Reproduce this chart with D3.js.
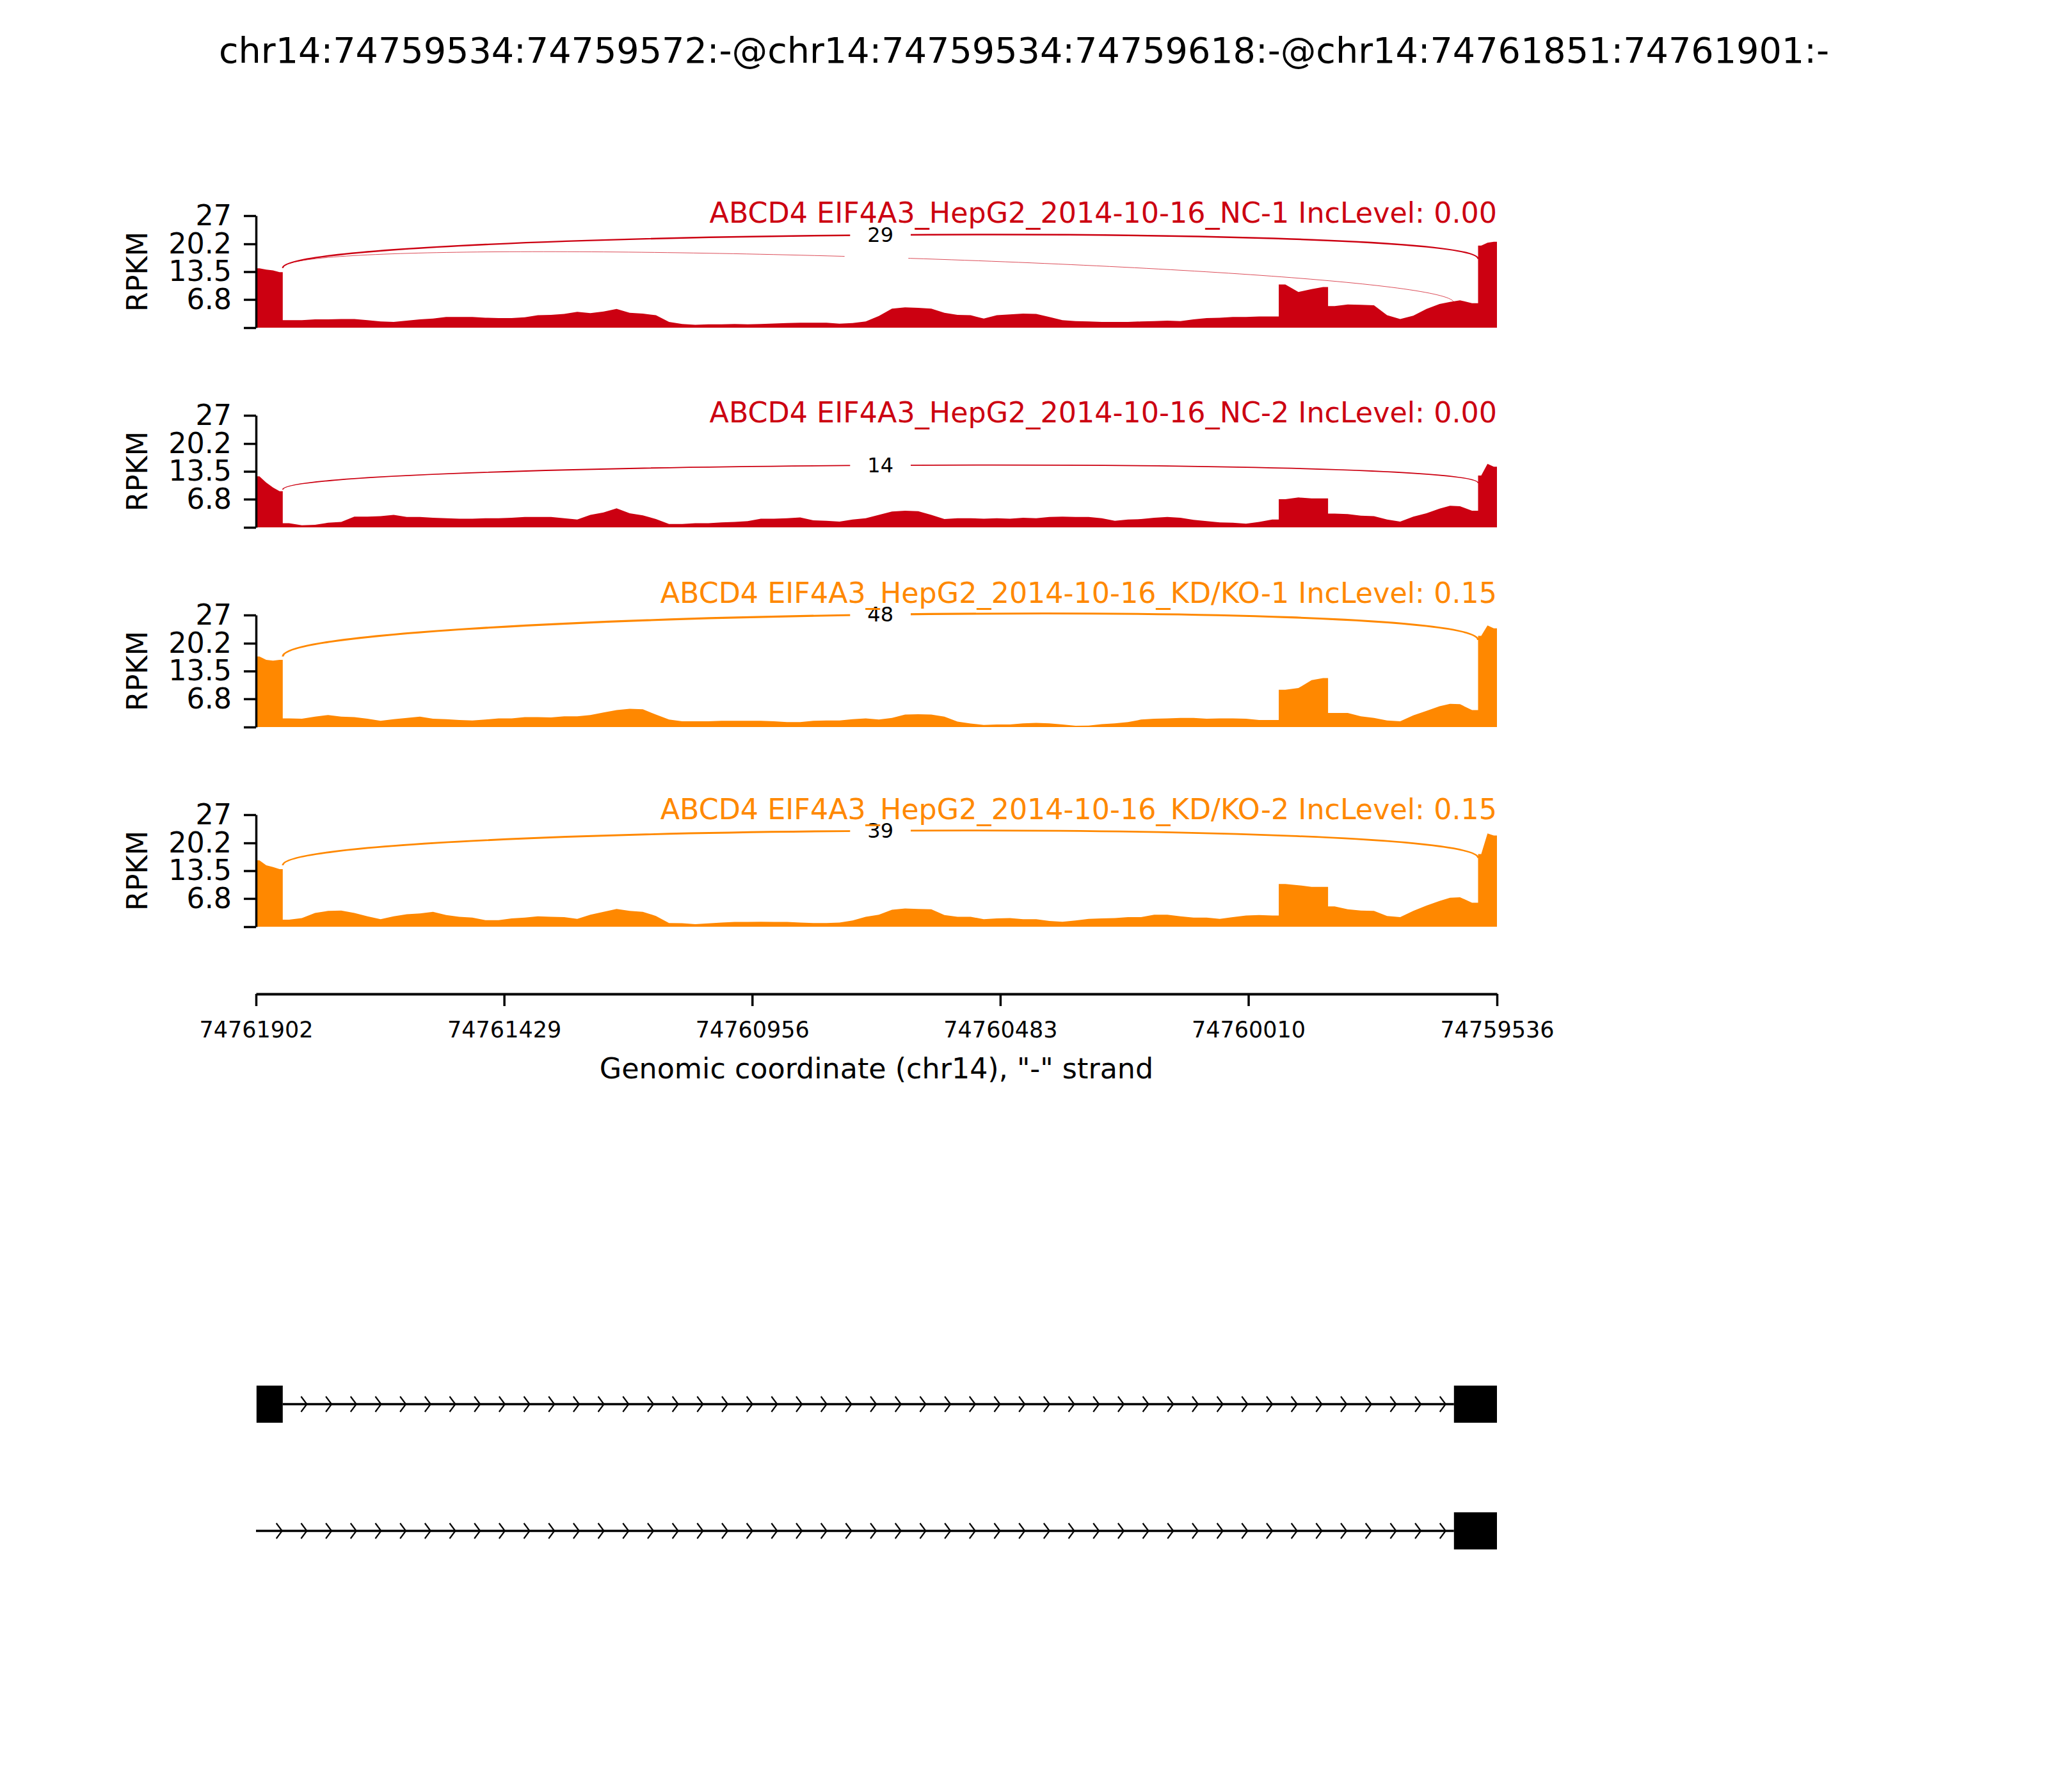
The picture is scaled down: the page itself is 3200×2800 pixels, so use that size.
<!DOCTYPE html>
<html>
<head>
<meta charset="utf-8">
<script src="https://cdn.jsdelivr.net/npm/d3@7"></script>
<style>
  body { margin: 0; background: #fff; }
  svg text { font-family: "DejaVu Sans", sans-serif; }
</style>
</head>
<body>
<div id="graph"></div>
<script>
const TITLE = "chr14:74759534:74759572:-@chr14:74759534:74759618:-@chr14:74761851:74761901:-";
const GENE = "ABCD4";
const SAMPLES = [
  "EIF4A3_HepG2_2014-10-16_NC-1",
  "EIF4A3_HepG2_2014-10-16_NC-2",
  "EIF4A3_HepG2_2014-10-16_KD/KO-1",
  "EIF4A3_HepG2_2014-10-16_KD/KO-2"
];
const INC_LEVELS = ["0.00", "0.00", "0.15", "0.15"];
const COLORS = ["#CC0011", "#CC0011", "#FF8800", "#FF8800"];

const Y_TICKS = [0, 6.8, 13.5, 20.2, 27];
const X_TICKS = ["74761902", "74761429", "74760956", "74760483", "74760010", "74759536"];
const X_LABEL = "Genomic coordinate (chr14), \"-\" strand";
const REGION = [74761902, 74759536];

// coverage bins, bp offset from 74761902 (start of each bin)
const BIN_OFFSETS = [
  0, 13, 26, 39, 51,
  75, 100, 125, 150, 175, 200, 225, 250, 275, 300,
  325, 350, 375, 400, 425, 450, 475, 500, 525, 550,
  575, 600, 625, 650, 675, 700, 725, 750, 775, 800,
  825, 850, 875, 900, 925, 950, 975, 1000, 1025, 1050,
  1075, 1100, 1125, 1150, 1175, 1200, 1225, 1250, 1275, 1300,
  1325, 1350, 1375, 1400, 1425, 1450, 1475, 1500, 1525, 1550,
  1575, 1600, 1625, 1650, 1675, 1700, 1725, 1750, 1775, 1800,
  1825, 1850, 1875, 1900, 1925,
  1950, 1975, 2000, 2025,
  2044, 2069, 2094, 2119, 2144, 2169, 2194, 2219, 2244, 2269,
  2284, 2307,
  2330, 2342, 2354
];
const BIN_END = 2366;
// offsets where the coverage jumps sharply (exon / block edges)
const EDGES = [0, 51, 1950, 2044, 2330, 2366];

// RPKM per bin
const COV_NC1 = [
  14.3, 14.0, 13.8, 13.4, 1.8,
  1.8, 2.0, 2.0, 2.1, 2.1, 1.8, 1.5, 1.4, 1.7, 2.0,
  2.2, 2.6, 2.6, 2.6, 2.4, 2.3, 2.3, 2.5, 3.0, 3.1,
  3.3, 3.8, 3.5, 3.9, 4.5, 3.6, 3.4, 3.0, 1.4, 0.9,
  0.7, 0.8, 0.8, 0.9, 0.8, 0.9, 1.0, 1.1, 1.2, 1.2,
  1.2, 0.95, 1.1, 1.5, 2.8, 4.6, 4.9, 4.8, 4.6, 3.6,
  3.1, 3.0, 2.2, 3.0, 3.2, 3.4, 3.3, 2.6, 1.8, 1.6,
  1.5, 1.4, 1.4, 1.4, 1.5, 1.6, 1.7, 1.6, 2.0, 2.3,
  2.4, 2.6, 2.6, 2.7, 2.7,
  10.4, 8.6, 9.3, 9.8,
  5.2, 5.6, 5.5, 5.4, 3.0, 2.1, 2.9, 4.5, 5.7, 6.2,
  6.6, 5.9,
  19.8, 20.5, 20.7
];
const COV_NC2 = [
  12.3, 10.8, 9.6, 8.7, 1.0,
  0.5, 0.6, 1.1, 1.3, 2.6, 2.6, 2.7, 3.0, 2.5, 2.5,
  2.3, 2.2, 2.1, 2.1, 2.2, 2.2, 2.3, 2.5, 2.5, 2.5,
  2.2, 1.9, 3.0, 3.6, 4.6, 3.4, 2.9, 2.0, 0.8, 0.8,
  1.0, 1.0, 1.2, 1.3, 1.5, 2.1, 2.1, 2.2, 2.4, 1.7,
  1.6, 1.4, 1.9, 2.2, 3.0, 3.8, 4.0, 3.9, 3.0, 2.0,
  2.2, 2.2, 2.1, 2.2, 2.1, 2.3, 2.2, 2.5, 2.6, 2.5,
  2.5, 2.2, 1.6, 1.9, 2.0, 2.3, 2.5, 2.3, 1.8, 1.5,
  1.2, 1.1, 0.9, 1.3, 1.9,
  6.8, 7.2, 7.0, 7.0,
  3.3, 3.2, 2.8, 2.7, 1.9, 1.4, 2.6, 3.4, 4.5, 5.2,
  5.1, 4.0,
  12.5, 15.3, 14.6
];
const COV_KD1 = [
  17.0, 16.2, 16.0, 16.2, 2.1,
  2.0, 2.5, 2.9, 2.5, 2.4, 2.0, 1.5, 1.9, 2.2, 2.5,
  2.0, 1.9, 1.7, 1.6, 1.8, 2.1, 2.1, 2.4, 2.4, 2.3,
  2.6, 2.6, 2.9, 3.5, 4.1, 4.4, 4.3, 3.0, 1.8, 1.4,
  1.4, 1.4, 1.5, 1.5, 1.5, 1.5, 1.4, 1.2, 1.2, 1.5,
  1.6, 1.6, 1.9, 2.1, 1.8, 2.2, 3.0, 3.1, 3.0, 2.5,
  1.3, 0.85, 0.5, 0.6, 0.6, 0.9, 1.0, 0.9, 0.6, 0.3,
  0.35, 0.7, 0.9, 1.2, 1.8, 2.0, 2.1, 2.2, 2.2, 2.0,
  2.1, 2.1, 2.0, 1.7, 1.7,
  9.0, 9.4, 11.3, 11.8,
  3.4, 3.4, 2.6, 2.2, 1.6, 1.4, 2.8, 3.9, 5.0, 5.6,
  5.5, 4.1,
  22.0, 24.5, 23.8
];
const COV_KD2 = [
  16.0, 14.8, 14.4, 13.9, 1.7,
  2.1, 3.3, 3.8, 3.9, 3.3, 2.5, 1.8, 2.5, 3.0, 3.2,
  3.6, 2.8, 2.4, 2.2, 1.6, 1.6, 2.0, 2.2, 2.5, 2.4,
  2.3, 1.9, 2.9, 3.6, 4.3, 3.8, 3.6, 2.6, 0.9, 0.85,
  0.6, 0.8, 1.0, 1.15, 1.15, 1.2, 1.15, 1.15, 1.0, 0.9,
  0.9, 1.0, 1.5, 2.4, 2.9, 4.1, 4.4, 4.3, 4.2, 2.8,
  2.4, 2.4, 1.8, 2.0, 2.1, 1.8, 1.8, 1.4, 1.2, 1.5,
  1.9, 2.0, 2.1, 2.3, 2.3, 2.9, 2.9, 2.5, 2.2, 2.2,
  1.9, 2.3, 2.7, 2.8, 2.7,
  10.3, 10.0, 9.6, 9.6,
  4.9, 4.2, 3.9, 3.8, 2.6, 2.3, 3.8, 5.1, 6.2, 7.0,
  7.1, 5.8,
  17.5, 22.5, 22.0
];
const COVERAGE = [COV_NC1, COV_NC2, COV_KD1, COV_KD2];

// junctions: sample index, donor, acceptor, read count, coverage at both ends
const JXN_SAMPLE = [0, 0, 1, 2, 3];
const JXN_START = [74761851, 74761851, 74761851, 74761851, 74761851];
const JXN_END = [74759618, 74759572, 74759572, 74759572, 74759572];
const JXN_COUNT = [1, 29, 14, 48, 39];
const JXN_LEFT_DENS = [14.4, 14.4, 9.1, 17.0, 14.8];
const JXN_RIGHT_DENS = [6.0, 16.6, 10.7, 21.0, 16.6];

// gene structure
const TX_EXONS = [
  [[74761851, 74761901], [74759536, 74759618]],
  [[74759536, 74759618]]
];
const TX_SPAN = [[74761851, 74759618], [74761902, 74759618]];

const W = 3200, H = 2800;
const plot_left = 400, plot_right = 2339;
const panel_top0 = 337, panel_step = 312, panel_h = 175;
const axis_y = 1553;
const tx_y = [2194, 2392];

var x = d3.scaleLinear().domain(REGION).range([plot_left, plot_right]);

const svg = d3.select("#graph").append("svg")
    .attr("width", W)
    .attr("height", H)
    .style("background", "#fff");

svg.append("text")
    .attr("x", W / 2)
    .attr("y", 78)
    .attr("text-anchor", "middle")
    .attr("dominant-baseline", "central")
    .style("font-size", "55.6px")
    .text(TITLE);

const draw_label_box = (g, cx, cy, txt) => {
  let lg = g.append("g");
  let rect = lg.append("rect").attr("fill", "#fff");
  let t = lg.append("text")
      .attr("x", cx)
      .attr("y", cy)
      .attr("text-anchor", "middle")
      .attr("dominant-baseline", "central")
      .style("font-size", "32px")
      .text(txt);
  let bb = t.node().getBBox();
  const pad = 27;
  rect.attr("x", bb.x - pad)
      .attr("y", bb.y - pad)
      .attr("width", bb.width + 2 * pad)
      .attr("height", bb.height + 2 * pad)
      .attr("rx", 22);
}

const coverage_points = (cov) => {
  let pts = [];
  BIN_OFFSETS.forEach((b, k) => {
    const next = (k + 1 < BIN_OFFSETS.length) ? BIN_OFFSETS[k + 1] : BIN_END;
    if (EDGES.indexOf(b) != -1) pts.push({o: b, v: cov[k]});
    pts.push({o: (b + next) / 2, v: cov[k]});
    if (EDGES.indexOf(next) != -1) pts.push({o: next, v: cov[k]});
  });
  return pts;
}

const draw_panel = (i) => {
  const top = panel_top0 + i * panel_step;
  var y = d3.scaleLinear().domain([0, 27]).range([top + panel_h, top]);
  const cov = COVERAGE[i];
  const color = COLORS[i];
  let g = svg.append("g");

  let area = d3.area()
      .x((d) => x(REGION[0] - d.o))
      .y0(y(0))
      .y1((d) => y(d.v));

  g.append("path")
      .attr("d", area(coverage_points(cov)))
      .attr("fill", color);

  // y axis
  let ax = g.append("g")
      .attr("transform", "translate(" + plot_left + ",0)")
      .call(d3.axisLeft(y).tickValues(Y_TICKS)
        .tickFormat((d) => d === 0 ? "" : d)
        .tickSize(19).tickSizeOuter(0).tickPadding(19));
  ax.select(".domain").attr("stroke-width", 3.5);
  ax.selectAll(".tick line").attr("stroke-width", 3.5);
  ax.selectAll(".tick text")
      .style("font-size", "44.4px")
      .style("font-family", "'DejaVu Sans', sans-serif");

  g.append("text")
      .attr("transform", "translate(214," + (top + panel_h / 2) + ") rotate(-90)")
      .attr("text-anchor", "middle")
      .attr("dominant-baseline", "central")
      .style("font-size", "44.4px")
      .text("RPKM");

  // junction arcs
  const lift = 0.44 * d3.max(cov);
  let peak = 0;
  JXN_SAMPLE.forEach((s, j) => {
    if (s != i) return;
    const x1 = x(JXN_START[j]), x2 = x(JXN_END[j]);
    const l = JXN_LEFT_DENS[j], r = JXN_RIGHT_DENS[j];
    let p = d3.path();
    p.moveTo(x1, y(l));
    p.bezierCurveTo(x1, y(l + lift), x2, y(r + lift), x2, y(r));
    g.append("path")
        .attr("d", p.toString())
        .attr("fill", "none")
        .attr("stroke", color)
        .attr("stroke-width", 0.4 * Math.sqrt(JXN_COUNT[j]) + 0.3);
    const mid = (l + r) / 2 + 0.75 * lift;
    peak = Math.max(peak, mid);
    draw_label_box(g, (x1 + x2) / 2, y(mid), JXN_COUNT[j]);
  });

  const base = Math.min(y(27) + 11, y(peak) - 18);
  g.append("text")
      .attr("x", plot_right)
      .attr("y", base)
      .attr("text-anchor", "end")
      .attr("fill", color)
      .style("font-size", "44.4px")
      .text(GENE + " " + SAMPLES[i] + " IncLevel: " + INC_LEVELS[i]);
}

const draw_x_axis = () => {
  let ax = svg.append("g")
      .attr("transform", "translate(0," + axis_y + ")")
      .call(d3.axisBottom(x).tickValues(X_TICKS.map(Number))
        .tickFormat(d3.format("d"))
        .tickSize(19).tickSizeOuter(0).tickPadding(24));
  ax.select(".domain").attr("stroke-width", 4);
  ax.selectAll(".tick line").attr("stroke-width", 3.5);
  ax.selectAll(".tick text")
      .style("font-size", "35px")
      .style("font-family", "'DejaVu Sans', sans-serif");

  svg.append("text")
      .attr("x", (plot_left + plot_right) / 2)
      .attr("y", 1669)
      .attr("text-anchor", "middle")
      .attr("dominant-baseline", "central")
      .style("font-size", "44.4px")
      .text(X_LABEL);
}

const draw_transcripts = () => {
  const step = 47.2;
  TX_EXONS.forEach((exons, t) => {
    const cy = tx_y[t];
    let g = svg.append("g");
    const span = TX_SPAN[t];
    g.append("line")
        .attr("x1", x(span[0])).attr("x2", x(span[1]))
        .attr("y1", cy).attr("y2", cy)
        .attr("stroke", "#000")
        .attr("stroke-width", 3.5);
    // intron arrows
    const arrows = d3.range(74759640, span[0] - 30, step);
    arrows.forEach((a) => {
      const ax = x(a);
      g.append("path")
          .attr("d", "M" + (ax - 4) + "," + (cy - 12) + "L" + (ax + 5) + "," + cy + "L" + (ax - 4) + "," + (cy + 12))
          .attr("fill", "none")
          .attr("stroke", "#000")
          .attr("stroke-width", 2.2);
    });
    exons.forEach((e) => {
      g.append("rect")
          .attr("x", x(e[1]))
          .attr("width", x(e[0]) - x(e[1]))
          .attr("y", cy - 29)
          .attr("height", 58)
          .attr("fill", "#000");
    });
  });
}

for (let i = 0; i < SAMPLES.length; ++i) {
  draw_panel(i);
}
draw_x_axis();
draw_transcripts();
</script>
</body>
</html>
